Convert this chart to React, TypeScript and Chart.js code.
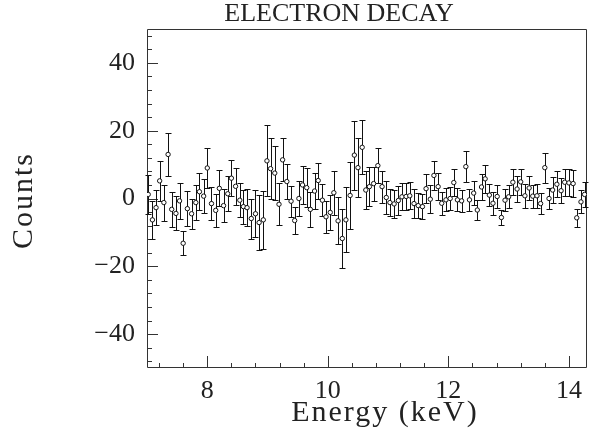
import React, { useEffect, useRef } from "react";
import { Chart, registerables } from "chart.js";

Chart.register(...registerables);

// Energy bins (keV)
const energies = [
  7.02, 7.09, 7.15, 7.21, 7.28, 7.35, 7.41, 7.48, 7.54, 7.60, 7.67, 7.74, 7.81, 7.87, 7.94, 8.00, 8.07, 8.14, 8.20, 8.27, 8.34, 8.40,
  8.47, 8.54, 8.60, 8.66, 8.73, 8.80, 8.86, 8.93, 8.99, 9.05, 9.12, 9.19, 9.25, 9.32, 9.39, 9.45, 9.52, 9.58, 9.65, 9.71, 9.78, 9.84, 9.91,
  9.97, 10.04, 10.10, 10.17, 10.24, 10.30, 10.37, 10.44, 10.50, 10.57, 10.63, 10.69, 10.76, 10.83, 10.90, 10.97, 11.03, 11.10, 11.17, 11.23, 11.30, 11.36, 11.43,
  11.50, 11.57, 11.63, 11.70, 11.76, 11.83, 11.89, 11.96, 12.03, 12.09, 12.15, 12.22, 12.29, 12.35, 12.42, 12.48, 12.55, 12.61, 12.68, 12.74, 12.81, 12.88,
  12.94, 13.00, 13.07, 13.14, 13.20, 13.27, 13.34, 13.40, 13.47, 13.53, 13.60, 13.67, 13.73, 13.80, 13.87, 13.93, 14.00, 14.07, 14.13, 14.20, 14.26,
];

// Counts per bin
const counts = [
  1.2, -6.3, -2.7, 5.2, -1.2, 13.0, -3.2, -4.4, -0.7, -13.2, -3.0, -4.5, -1.2, 2.0, 0.7, 9.0, -1.5, -3.5, 3.0, -2.1, 1.4, 6.0,
  3.6, -0.5, -2.4, -2.7, -5.9, -4.5, -7.1, -6.3, 11.1, 8.8, 7.5, -1.7, 11.4, 5.0, -0.8, -6.5, 0.0, 4.0, 3.2, -3.2, 2.2, 5.3, -0.5,
  -5.4, -4.1, 1.7, -6.6, -11.8, -6.3, 0.9, 12.8, 9.1, 15.1, 2.5, 3.5, 4.4, 9.7, 3.5, 0.3, -1.2, -1.6, -0.6, 0.5, 0.6, 0.8, -1.5,
  -2.1, -2.4, 2.9, -0.2, 6.8, 3.5, -1.4, -0.4, 0.0, 4.7, -0.4, -0.7, 9.4, -0.4, 1.6, -3.4, 3.4, 5.8, 1.0, -1.4, 0.6, -5.6,
  -0.5, 0.5, 4.8, 2.8, 4.9, 0.8, 3.1, 0.7, 0.8, -1.5, 9.1, 0.0, 2.5, 4.2, 2.3, 4.8, 4.6, 4.4, -5.7, -1.0, 1.2,
];

// Symmetric error (half-length of each error bar)
const errors = [
  5.7, 5.5, 5.2, 5.8, 5.3, 6.4, 5.2, 5.0, 5.4, 3.6, 5.2, 4.5, 5.2, 5.4, 5.0, 5.8, 4.9, 4.9, 5.3, 4.9, 5.2, 5.3,
  5.4, 5.0, 5.0, 5.5, 5.9, 7.0, 8.1, 8.6, 10.5, 8.9, 7.9, 6.2, 6.3, 5.1, 4.6, 4.0, 5.1, 5.6, 5.7, 5.2, 5.3, 5.3, 4.8,
  4.7, 5.2, 6.5, 6.9, 8.6, 9.6, 10.0, 10.2, 8.8, 8.0, 5.6, 5.7, 5.0, 5.1, 4.7, 4.8, 4.0, 4.1, 4.2, 4.0, 3.9, 4.0, 4.2,
  3.7, 3.7, 4.3, 4.1, 4.3, 3.9, 3.4, 3.4, 3.4, 3.9, 3.4, 3.2, 4.5, 3.3, 3.6, 3.0, 3.9, 4.2, 3.3, 3.4, 3.4, 2.3,
  3.2, 3.4, 3.9, 3.7, 3.8, 3.5, 3.6, 3.4, 3.5, 3.2, 4.4, 3.2, 3.7, 3.8, 3.7, 4.0, 4.0, 4.0, 2.7, 3.4, 3.7,
];

const xTickLabels = [8, 10, 12, 14];
const yTickLabels = [-40, -20, 0, 20, 40];
const titleText = "ELECTRON DECAY";
const xTitleText = "Energy (keV)";
const yTitleText = "Counts";

const SERIF = '"Liberation Serif", "Times New Roman", serif';
const INK = "#222";

export default function App() {
  const ref = useRef<HTMLCanvasElement>(null);

  useEffect(() => {
    document.body.style.margin = "0";
    const canvas = ref.current;
    if (!canvas) return;

    const framePlugin = {
      id: "frameAndBars",
      beforeDatasetsDraw(chart: any) {
        const { ctx, chartArea: a, scales } = chart;
        const xs = scales.x;
        const ys = scales.y;
        ctx.save();
        ctx.strokeStyle = "#333";
        ctx.lineWidth = 1;
        ctx.beginPath();
        // frame
        ctx.rect(Math.round(a.left) + 0.5, Math.round(a.top) + 0.5, Math.round(a.right - a.left) - 1, Math.round(a.bottom - a.top) - 1);
        // y ticks (every 4, major every 20)
        for (let v = -48; v <= 48; v += 4) {
          const y = Math.round(ys.getPixelForValue(v)) + 0.5;
          const len = v % 20 === 0 ? 11 : 5;
          ctx.moveTo(a.left, y);
          ctx.lineTo(a.left + len, y);
        }
        // x ticks (every 0.4, major every 2)
        for (let i = 18; i <= 35; i++) {
          const v = i * 0.4;
          const x = Math.round(xs.getPixelForValue(v)) + 0.5;
          const major = i % 5 === 0;
          const len = major ? 12 : 5;
          ctx.moveTo(x, a.bottom);
          ctx.lineTo(x, a.bottom - len);
        }
        ctx.stroke();

        // error bars
        ctx.strokeStyle = "#111";
        ctx.beginPath();
        for (let i = 0; i < energies.length; i++) {
          const x = Math.round(xs.getPixelForValue(energies[i])) + 0.5;
          const yTop = Math.round(ys.getPixelForValue(counts[i] + errors[i])) + 0.5;
          const yBot = Math.round(ys.getPixelForValue(counts[i] - errors[i])) + 0.5;
          ctx.moveTo(x, yTop);
          ctx.lineTo(x, yBot);
          ctx.moveTo(x - 3, yTop);
          ctx.lineTo(x + 3, yTop);
          ctx.moveTo(x - 3, yBot);
          ctx.lineTo(x + 3, yBot);
        }
        ctx.stroke();
        ctx.restore();
      },
      afterDraw(chart: any) {
        const { ctx, chartArea: a } = chart;
        ctx.save();
        ctx.fillStyle = INK;
        ctx.textAlign = "center";
        ctx.textBaseline = "middle";
        // title
        ctx.font = `26px ${SERIF}`;
        (ctx as any).letterSpacing = "0px";
        ctx.fillText(titleText, 339, 14);
        // x title
        ctx.font = `30px ${SERIF}`;
        (ctx as any).letterSpacing = "2px";
        ctx.fillText(xTitleText, (a.left + a.right) / 2 + 18, 413);
        // y title
        ctx.translate(24, (a.top + a.bottom) / 2 + 2);
        ctx.rotate(-Math.PI / 2);
        ctx.fillText(yTitleText, 0, 0);
        ctx.restore();
      },
    };

    const chart = new Chart(canvas, {
      type: "scatter",
      data: {
        datasets: [
          {
            data: energies.map((e, i) => ({ x: e, y: counts[i] })),
            pointStyle: "circle",
            pointRadius: 2.2,
            pointBorderWidth: 1,
            pointBorderColor: "#111",
            pointBackgroundColor: "#fff",
            showLine: false,
          },
        ],
      },
      options: {
        animation: false,
        responsive: false,
        devicePixelRatio: 1,
        layout: { padding: { top: 29, right: 8, left: 0, bottom: 0 } },
        plugins: { legend: { display: false }, tooltip: { enabled: false }, title: { display: false } },
        scales: {
          x: {
            type: "linear",
            min: 7.0,
            max: 14.3,
            grid: { display: false, drawTicks: false },
            border: { display: false },
            afterBuildTicks(scale: any) {
              scale.ticks = xTickLabels.map((v) => ({ value: v }));
            },
            afterFit(scale: any) {
              scale.height = 72;
            },
            ticks: {
              color: INK,
              padding: 8,
              maxRotation: 0,
              font: { family: SERIF, size: 26 },
              callback: (v: any) => String(v),
            },
          },
          y: {
            type: "linear",
            min: -50,
            max: 50,
            grid: { display: false, drawTicks: false },
            border: { display: false },
            afterBuildTicks(scale: any) {
              scale.ticks = yTickLabels.map((v) => ({ value: v }));
            },
            afterFit(scale: any) {
              scale.width = 147;
            },
            ticks: {
              color: INK,
              padding: 12,
              font: { family: SERIF, size: 26 },
              callback: (v: any) => (Number(v) < 0 ? "\u2212" + Math.abs(Number(v)) : String(v)),
            },
          },
        },
      },
      plugins: [framePlugin],
    });

    return () => chart.destroy();
  }, []);

  return (
    <div style={{ position: "absolute", left: 0, top: 0, width: 595, height: 440, background: "#fff" }}>
      <canvas ref={ref} width={595} height={440} style={{ width: 595, height: 440, display: "block" }} />
    </div>
  );
}
